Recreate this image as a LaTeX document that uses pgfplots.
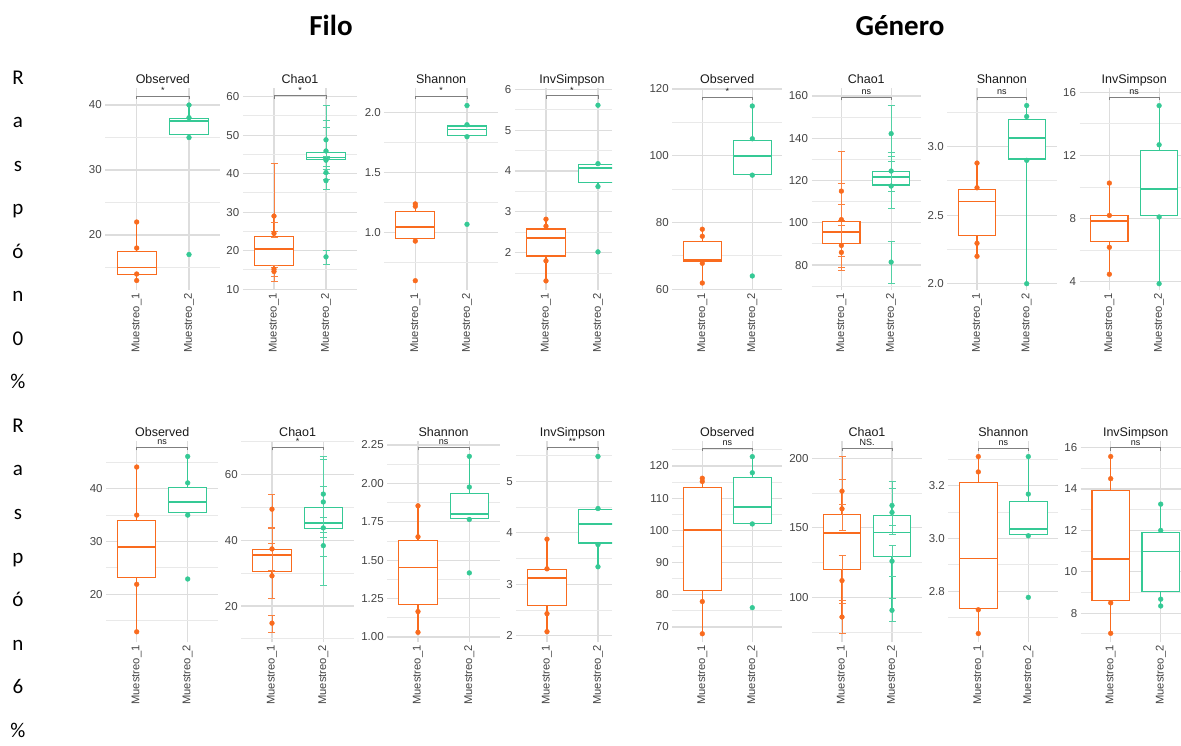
\documentclass[border=0pt]{standalone}
\usepackage{fontspec}
\setmainfont{Liberation Sans}
\newfontfamily\calibri{Carlito}
\usepackage{pgfplots}
\pgfplotsset{compat=1.18}
\usepgfplotslibrary{statistics}
\definecolor{cO}{HTML}{F96B1E}
\definecolor{cG}{HTML}{35C995}
\definecolor{gridM}{HTML}{DDDDDD}
\definecolor{gridm}{HTML}{E9E9E9}
\definecolor{tickc}{HTML}{444444}
\definecolor{ttlc}{HTML}{1A1A1A}
\definecolor{brkc}{HTML}{7F7F7F}

\pgfplotsset{
 pnl/.style={scale only axis, anchor=south west, xmin=0.4, xmax=2.6, xtick={1,2}, xticklabels={Muestreo\_1,Muestreo\_2},
  xticklabel style={rotate=90, anchor=east, font=\fontsize{11.2}{12}\selectfont, text=tickc},
  yticklabel style={font=\fontsize{11.5}{12}\selectfont, text=tickc},
  axis line style={draw=none}, major tick length=0pt, minor tick length=0pt,
  grid=both, major grid style={draw=gridM, line width=1.2pt}, minor grid style={draw=gridm, line width=0.9pt},
  clip mode=individual,
  boxplot/every median/.style={line width=1.9pt}},
 rowA/.style={pnl, height=202pt},
 rowB/.style={pnl, height=201pt},
}

\newcommand{\bx}[7]{\addplot[#2, line width=1.1pt, fill=white, boxplot prepared={draw direction=y, draw position=#1, lower whisker=#3, lower quartile=#4, median=#5, upper quartile=#6, upper whisker=#7, box extend=0.75, whisker extend=0}] coordinates {};}
\newcommand{\pts}[2]{\addplot[only marks, mark=*, mark size=2.4pt, #1] coordinates {#2};}
\newcommand{\ept}[2]{\addplot[only marks, mark=*, mark size=2.4pt, #1, error bars/.cd, y dir=both, y explicit, error bar style={line width=0.8pt, #1!85!white}, error mark options={rotate=90, mark size=3.5pt, line width=0.8pt, #1!85!white}] coordinates {#2};}
\newcommand{\sig}[2]{\draw[brkc, line width=0.7pt] ([yshift=-3pt]axis cs:1,#1) -- (axis cs:1,#1) -- (axis cs:2,#1) -- ([yshift=-3pt]axis cs:2,#1); \node[anchor=base, font=\fontsize{9}{9}\selectfont, text=ttlc, yshift=2.5pt] at (axis cs:1.5,#1) {#2};}
\newcommand{\ttl}[2]{\node[anchor=base, font=\fontsize{12.5}{13}\selectfont, text=ttlc, yshift=4.5pt] at (axis cs:1.5,#1) {#2};}

\begin{document}
\begin{tikzpicture}
\useasboundingbox (0,0) rectangle (1181pt,745pt);

\node[anchor=base, font=\calibri\bfseries\fontsize{29}{30}\selectfont] at (331pt,709pt) {Filo};
\node[anchor=base, font=\calibri\bfseries\fontsize{29}{30}\selectfont] at (900pt,709pt) {Género};
\foreach \c [count=\i from 0] in {R,a,s,p,ó,n,0,\%,R,a,s,p,ó,n,6,\%} {
  \node[anchor=base, inner sep=0pt, font=\calibri\fontsize{21}{21}\selectfont] at (18pt, {745pt-84.5pt-43.5pt*\i}) {\c};
}

% ---------------- Top row ----------------
\begin{axis}[rowA, at={(105.3pt,455pt)}, width=115.1pt, ymin=11.54, ymax=42.62, ytick={20,30,40}, yticklabels={20,30,40}, minor ytick={15,25,35}]
\bx{1}{cO}{13.0}{13.9}{15.0}{17.4}{22.0}
\bx{2}{cG}{35.0}{35.4}{37.5}{37.95}{40.0}
\pts{cO}{(1,22)(1,18)(1,14)(1,13)}
\pts{cG}{(2,40)(2,38.05)(2,35)(2,17)}
\sig{41.4}{*}
\ttl{42.62}{Observed}
\end{axis}

\begin{axis}[rowA, at={(242.8pt,455pt)}, width=114.4pt, ymin=9.79, ymax=62.26, ytick={10,20,30,40,50,60}, yticklabels={10,20,30,40,50,60}, minor ytick={15,25,35,45,55}]
\bx{1}{cO}{14.6}{16.2}{20.4}{23.8}{29.0}
\bx{2}{cG}{43.5}{43.7}{44.2}{45.6}{45.9}
\ept{cO}{(1,29.0) += (0,13.7) -= (0,3.9) (1,24.5) += (0,2.8) -= (0,1.0) (1,15.2) += (0,0.9) -= (0,2.0) (1,14.6) += (0,1.0) -= (0,2.6)}
\ept{cG}{(2,48.8) += (0,8.9) -= (0,4.3) (2,45.9) += (0,8.0) -= (0,3.9) (2,43.5) += (0,8.5) -= (0,3.5) (2,40.3) += (0,3.7) -= (0,1.8) (2,38.2) += (0,2.8) -= (0,2.2) (2,18.4) += (0,1.6) -= (0,1.9)}
\sig{60.3}{*}
\ttl{62.26}{Chao1}
\end{axis}

\begin{axis}[rowA, at={(384.3pt,455pt)}, width=113.7pt, ymin=0.5225, ymax=2.206, ytick={1,1.5,2}, yticklabels={1.0,1.5,2.0}, minor ytick={0.75,1.25,1.75}]
\bx{1}{cO}{0.93}{0.953}{1.05}{1.175}{1.24}
\bx{2}{cG}{1.80}{1.81}{1.86}{1.889}{1.90}
\pts{cO}{(1,1.24)(1,1.22)(1,0.93)(1,0.60)}
\pts{cG}{(2,2.06)(2,1.90)(2,1.80)(2,1.07)}
\sig{2.14}{*}
\ttl{2.206}{Shannon}
\end{axis}

\begin{axis}[rowA, at={(514.8pt,455pt)}, width=97.2pt, xmax=2.27, ymin=1.087, ymax=6.032, ytick={2,3,4,5,6}, yticklabels={2,3,4,5,6}, minor ytick={1.5,2.5,3.5,4.5,5.5}]
\bx{1}{cO}{1.31}{1.92}{2.35}{2.58}{2.82}
\bx{2}{cG}{3.62}{3.72}{4.07}{4.15}{4.18}
\pts{cO}{(1,2.82)(1,2.65)(1,1.80)(1,1.31)}
\pts{cG}{(2,5.61)(2,4.18)(2,3.62)(2,2.02)}
\sig{5.84}{*}
\ttl{6.032}{InvSimpson}
\end{axis}

\begin{axis}[rowA, at={(672.3pt,455pt)}, width=110pt, ymin=59.8, ymax=120.3, ytick={60,80,100,120}, yticklabels={60,80,100,120}, minor ytick={70,90,110}]
\bx{1}{cO}{61.9}{68.3}{68.9}{74.2}{78}
\bx{2}{cG}{94.2}{94.5}{100}{104.6}{114.9}
\pts{cO}{(1,78)(1,75.9)(1,67.8)(1,61.9)}
\pts{cG}{(2,114.9)(2,105.1)(2,94.2)(2,64)}
\sig{117.5}{*}
\ttl{120.3}{Observed}
\end{axis}

\begin{axis}[rowA, at={(811.5pt,455pt)}, width=109.5pt, ymin=68.2, ymax=163.8, ytick={80,100,120,140,160}, yticklabels={80,100,120,140,160}, minor ytick={70,90,110,130,150}]
\bx{1}{cO}{86.0}{90.3}{95.8}{100.7}{115.0}
\bx{2}{cG}{117.4}{117.9}{121.8}{124.4}{124.5}
\ept{cO}{(1,115.0) += (0,18.6) -= (0,14) (1,101.5) += (0,17) -= (0,17.5) (1,89.3) += (0,19.4) -= (0,10.4) (1,86.0) += (0,13) -= (0,8.7)}
\ept{cG}{(2,142.2) += (0,13.2) -= (0,13.2) (2,124.5) += (0,8.8) -= (0,9.8) (2,117.4) += (0,14.1) -= (0,10.6) (2,81.4) += (0,10) -= (0,10.1)}
\sig{159.4}{ns}
\ttl{163.8}{Chao1}
\end{axis}

\begin{axis}[rowA, at={(947.2pt,455pt)}, width=109.3pt, ymin=1.954, ymax=3.428, ytick={2,2.5,3}, yticklabels={2.0,2.5,3.0}, minor ytick={2.25,2.75,3.25}]
\bx{1}{cO}{2.20}{2.35}{2.60}{2.69}{2.88}
\bx{2}{cG}{2.00}{2.91}{3.06}{3.20}{3.30}
\pts{cO}{(1,2.88)(1,2.70)(1,2.295)(1,2.20)}
\pts{cG}{(2,3.30)(2,3.22)(2,2.90)(2,2.00)}
\sig{3.36}{ns}
\ttl{3.428}{Shannon}
\end{axis}

\begin{axis}[rowA, at={(1079.5pt,455pt)}, width=101.5pt, xmax=2.44, ymin=3.47, ymax=16.28, ytick={4,8,12,16}, yticklabels={4,8,12,16}, minor ytick={6,10,14}]
\bx{1}{cO}{4.47}{6.54}{7.87}{8.17}{10.25}
\bx{2}{cG}{3.87}{8.17}{9.87}{12.34}{15.16}
\pts{cO}{(1,10.25)(1,8.2)(1,6.18)(1,4.47)}
\pts{cG}{(2,15.16)(2,12.68)(2,8.1)(2,3.87)}
\sig{15.7}{ns}
\ttl{16.28}{InvSimpson}
\end{axis}

% ---------------- Bottom row ----------------
\begin{axis}[rowB, at={(106.1pt,103pt)}, width=112.2pt, ymin=10.97, ymax=49.03, ytick={20,30,40}, yticklabels={20,30,40}, minor ytick={15,25,35,45}]
\bx{1}{cO}{12.9}{23.1}{29.0}{34.0}{44.1}
\bx{2}{cG}{35.0}{35.5}{37.5}{40.3}{46.1}
\pts{cO}{(1,44.1)(1,35)(1,21.9)(1,12.9)}
\pts{cG}{(2,46.1)(2,41.1)(2,35)(2,22.9)}
\sig{47.8}{ns}
\ttl{49.03}{Observed}
\end{axis}

\begin{axis}[rowB, at={(241.2pt,103pt)}, width=112.9pt, ymin=9.07, ymax=70.26, ytick={20,40,60}, yticklabels={20,40,60}, minor ytick={10,30,50,70}]
\bx{1}{cO}{29.2}{30.5}{35.6}{37.2}{37.4}
\bx{2}{cG}{43.6}{43.6}{45.4}{50.0}{54.1}
\ept{cO}{(1,49.5) += (0,4.5) -= (0,5.5) (1,37.4) += (0,6.1) -= (0,6.4) (1,29.2) += (0,10) -= (0,6.8) (1,14.8) += (0,2.3) -= (0,2.8)}
\ept{cG}{(2,54.1) += (0,11.5) -= (0,13.1) (2,51.7) += (0,13) -= (0,9.2) (2,43.8) += (0,12.5) -= (0,8.8) (2,38.4) += (0,8.6) -= (0,12)}
\sig{68.3}{*}
\ttl{70.26}{Chao1}
\end{axis}

\begin{axis}[rowB, at={(387.2pt,103pt)}, width=112.9pt, ymin=0.967, ymax=2.276, ytick={1,1.25,1.5,1.75,2,2.25}, yticklabels={1.00,1.25,1.50,1.75,2.00,2.25}, minor ytick={1.125,1.375,1.625,1.875,2.125}]
\bx{1}{cO}{1.03}{1.213}{1.452}{1.626}{1.854}
\bx{2}{cG}{1.765}{1.772}{1.798}{1.935}{2.176}
\pts{cO}{(1,1.854)(1,1.652)(1,1.165)(1,1.03)}
\pts{cG}{(2,2.176)(2,1.976)(2,1.765)(2,1.417)}
\sig{2.235}{ns}
\ttl{2.276}{Shannon}
\end{axis}

\begin{axis}[rowB, at={(516.4pt,103pt)}, width=95.6pt, xmax=2.275, ymin=1.88, ymax=5.78, ytick={2,3,4,5}, yticklabels={2,3,4,5}, minor ytick={2.5,3.5,4.5,5.5}]
\bx{1}{cO}{2.08}{2.58}{3.13}{3.29}{3.875}
\bx{2}{cG}{3.34}{3.80}{4.166}{4.45}{4.47}
\pts{cO}{(1,3.875)(1,3.30)(1,2.43)(1,2.08)}
\pts{cG}{(2,5.48)(2,4.47)(2,3.77)(2,3.34)}
\sig{5.66}{**}
\ttl{5.78}{InvSimpson}
\end{axis}

\begin{axis}[rowB, at={(672.3pt,103pt)}, width=110pt, ymin=65.34, ymax=127.76, ytick={70,80,90,100,110,120}, yticklabels={70,80,90,100,110,120}, minor ytick={75,85,95,105,115,125}]
\bx{1}{cO}{67.9}{81.2}{100}{113.4}{116.2}
\bx{2}{cG}{102.0}{102.2}{107.4}{116.4}{122.9}
\pts{cO}{(1,116.2)(1,115.2)(1,77.9)(1,67.9)}
\pts{cG}{(2,122.9)(2,117.9)(2,102)(2,76)}
\sig{125.6}{ns}
\ttl{127.76}{Observed}
\end{axis}

\begin{axis}[rowB, at={(812pt,103pt)}, width=110pt, ymin=67.8, ymax=212.5, ytick={100,150,200}, yticklabels={100,150,200}, minor ytick={75,125,175}]
\bx{1}{cO}{85.8}{120.2}{146.1}{159.6}{176.4}
\bx{2}{cG}{90.6}{129.6}{146.6}{158.9}{166.1}
\ept{cO}{(1,176.4) += (0,25) -= (0,9.4) (1,163.7) += (0,21.4) -= (0,15.7) (1,112.0) += (0,18) -= (0,16.5) (1,85.8) += (0,12.2) -= (0,12)}
\ept{cG}{(2,166.1) += (0,17) -= (0,14) (2,161.1) += (0,17.3) -= (0,16) (2,126.0) += (0,11) -= (0,10.9) (2,90.6) += (0,8.4) -= (0,7.9)}
\sig{207.4}{NS.}
\ttl{212.5}{Chao1}
\end{axis}

\begin{axis}[rowB, at={(948.3pt,103pt)}, width=110pt, ymin=2.608, ymax=3.369, ytick={2.8,3.0,3.2}, yticklabels={2.8,3.0,3.2}, minor ytick={2.7,2.9,3.1,3.3}]
\bx{1}{cO}{2.64}{2.734}{2.924}{3.211}{3.31}
\bx{2}{cG}{3.01}{3.015}{3.036}{3.139}{3.31}
\pts{cO}{(1,3.31)(1,3.252)(1,2.73)(1,2.64)}
\pts{cG}{(2,3.31)(2,3.168)(2,3.01)(2,2.777)}
\sig{3.343}{ns}
\ttl{3.369}{Shannon}
\end{axis}

\begin{axis}[rowB, at={(1080.7pt,103pt)}, width=100.3pt, xmax=2.406, ymin=6.61, ymax=16.32, ytick={8,10,12,14,16}, yticklabels={8,10,12,14,16}, minor ytick={7,9,11,13,15}]
\bx{1}{cO}{7.03}{8.63}{10.6}{13.92}{15.57}
\bx{2}{cG}{8.35}{9.04}{10.98}{11.9}{13.27}
\pts{cO}{(1,15.57)(1,14.5)(1,8.5)(1,7.03)}
\pts{cG}{(2,13.27)(2,12.0)(2,8.68)(2,8.35)}
\sig{15.99}{ns}
\ttl{16.32}{InvSimpson}
\end{axis}
\end{tikzpicture}
\end{document}
